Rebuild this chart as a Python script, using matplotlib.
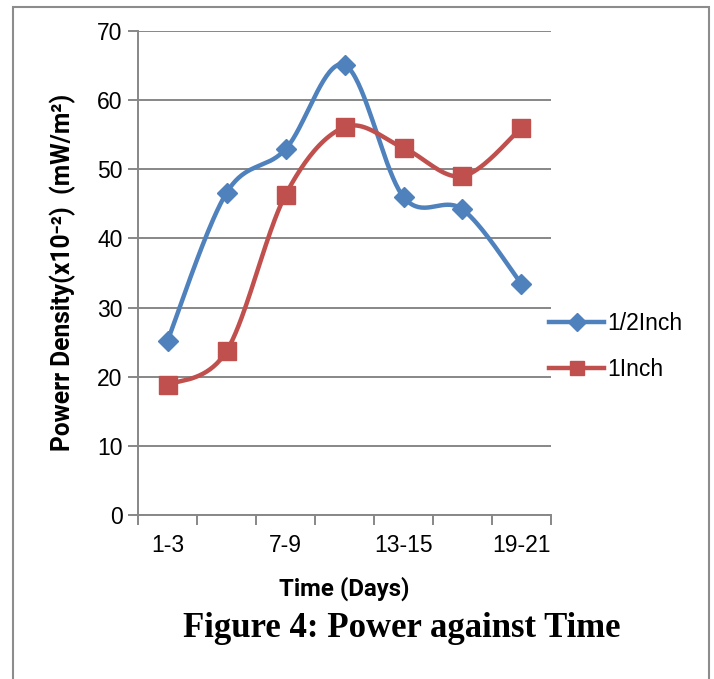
import numpy as np
import matplotlib
matplotlib.use("Agg")
import matplotlib.pyplot as plt
from matplotlib.patches import Rectangle

# data
categories = ["1-3", "4-6", "7-9", "10-12", "13-15", "16-18", "19-21"]
half_inch = [25.2, 46.6, 52.9, 65.1, 46.0, 44.2, 33.4]
one_inch = [18.8, 23.7, 46.3, 56.1, 53.1, 49.0, 56.0]
shown_labels = ["1-3", "7-9", "13-15", "19-21"]
y_ticks = [0, 10, 20, 30, 40, 50, 60, 70]

BLUE = "#4F81BD"
RED = "#C0504D"
GRID = "#878787"
NARROW = ["Roboto", "DejaVu Sans"]


def smooth(xs, ys, steps=40):
    """Excel-like smoothed line: cubic Bezier through the points."""
    xs = np.asarray(xs, float)
    ys = np.asarray(ys, float)
    px = np.r_[xs[0], xs, xs[-1]]
    py = np.r_[ys[0], ys, ys[-1]]
    t = np.linspace(0, 1, steps)[:, None]
    out = []
    for i in range(1, len(xs)):
        p0 = np.array([px[i], py[i]])
        p3 = np.array([px[i + 1], py[i + 1]])
        c1 = p0 + (p3 - np.array([px[i - 1], py[i - 1]])) / 6
        c2 = p3 - (np.array([px[i + 2], py[i + 2]]) - p0) / 6
        seg = ((1 - t) ** 3) * p0 + 3 * ((1 - t) ** 2) * t * c1 + 3 * (1 - t) * t ** 2 * c2 + t ** 3 * p3
        out.append(seg)
    pts = np.vstack(out)
    return pts[:, 0], pts[:, 1]


fig = plt.figure(figsize=(7.14, 6.79), dpi=100)
ax = fig.add_axes([0.1933, 0.2415, 0.5784, 0.7128])

x = np.arange(len(categories))
for vals, col, mk, ms, name in [(half_inch, BLUE, "D", 10.5, "1/2Inch"),
                                 (one_inch, RED, "s", 12.5, "1Inch")]:
    sx, sy = smooth(x, vals)
    ax.plot(sx, sy, color=col, lw=3.2, solid_capstyle="round", zorder=3)
    ax.plot(x, vals, linestyle="none", marker=mk, ms=ms, color=col, zorder=4)
    ax.plot([], [], color=col, lw=3.2, marker=mk, ms=ms * 0.85, label=name)

ax.set_xlim(-0.5, len(categories) - 0.5)
ax.set_ylim(0, 70)
ax.set_yticks(y_ticks)
ax.set_yticklabels([str(v) for v in y_ticks], fontsize=16.5, family="Liberation Sans")
ax.yaxis.grid(True, color=GRID, lw=1.4)
ax.set_axisbelow(True)

ax.set_xticks([categories.index(c) for c in shown_labels])
ax.set_xticklabels(shown_labels, fontsize=16.5, family="Liberation Sans")
ax.set_xticks(np.arange(len(categories) + 1) - 0.5, minor=True)
ax.tick_params(axis="x", which="major", length=0, pad=14)
ax.tick_params(axis="x", which="minor", length=7, width=1.4, color=GRID)
ax.tick_params(axis="y", length=7, width=1.4, color=GRID, pad=4)

for side in ["top", "right"]:
    ax.spines[side].set_visible(False)
for side in ["left", "bottom"]:
    ax.spines[side].set_color(GRID)
    ax.spines[side].set_linewidth(1.4)

fig.text(0.088, 0.5994, "Powerr Density(x10\u207b\u00b2)  (mW/m\u00b2)", rotation=90,
         ha="center", va="center", fontsize=17.7, fontweight="bold", family=NARROW)
fig.text(0.482, 0.133, "Time (Days)", ha="center", va="center",
         fontsize=17.3, fontweight="bold", family=NARROW)
fig.text(0.5623, 0.074, "Figure 4: Power against Time", ha="center", va="center",
         fontsize=25, fontweight="bold", family="Liberation Serif")

leg = ax.legend(loc="upper left", bbox_to_anchor=(0.769, 0.541), bbox_transform=fig.transFigure,
                frameon=False, handlelength=2.4, handletextpad=0.15,
                labelspacing=1.0, borderpad=0, borderaxespad=0,
                prop={"family": "Liberation Sans", "size": 16.5})

fig.add_artist(Rectangle((0.0182, -0.02), 0.9748, 1.0097, transform=fig.transFigure,
                         fill=False, edgecolor="#8c8c8c", lw=1.5))

fig.savefig("out.png", dpi=100)
